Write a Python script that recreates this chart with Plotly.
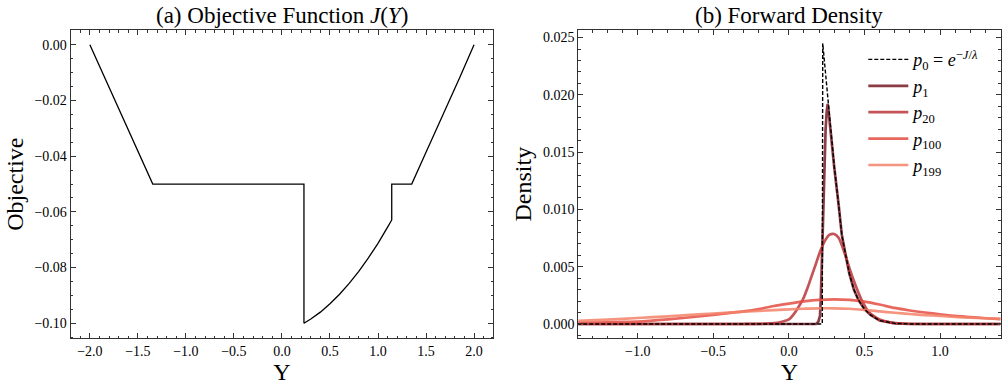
import plotly.graph_objects as go

# ---------------- data ----------------
# (a) objective function J(Y)
j_y = [-2.0, -1.345, 0.229, 0.229, 0.3, 0.4, 0.5, 0.6, 0.7, 0.8, 0.9, 1.0, 1.1,
       1.143, 1.143, 1.351, 1.5, 1.7, 1.85, 2.0]
j_val = [0.0, -0.05, -0.05, -0.1, -0.0985, -0.096, -0.093, -0.0896, -0.0857,
         -0.0814, -0.0765, -0.0713, -0.0655, -0.0629, -0.05, -0.05, -0.0386,
         -0.0235, -0.0118, 0.0]

# (b) forward densities
p0_y = [-1.4, 0.221, 0.224, 0.25, 0.265, 0.28, 0.30, 0.33, 0.35, 0.37, 0.40,
        0.43, 0.46, 0.50, 0.54, 0.60, 0.70, 0.80, 1.4]
p0_val = [0.0, 0.0, 0.0245, 0.0207, 0.0185, 0.0163, 0.0138, 0.0103, 0.0078,
          0.0064, 0.0044, 0.0030, 0.0021, 0.0013, 0.0008, 0.0003, 0.00005, 0.0, 0.0]

p1_y = [-1.4, 0.18, 0.195, 0.206, 0.212, 0.218, 0.228, 0.236, 0.243, 0.25,
        0.257, 0.265, 0.28, 0.30, 0.33, 0.35, 0.37, 0.40, 0.43, 0.46, 0.50,
        0.54, 0.60, 0.70, 0.80, 1.4]
p1_val = [0.0, 0.0, 0.0002, 0.0007, 0.0025, 0.0055, 0.0111, 0.0145, 0.0170,
          0.0185, 0.0192, 0.0183, 0.0160, 0.0137, 0.0103, 0.0078, 0.0064,
          0.0044, 0.0030, 0.0021, 0.0013, 0.0008, 0.0003, 0.00005, 0.0, 0.0]

p20_y = [-1.4, -0.3, -0.15, -0.06, 0.0, 0.029, 0.06, 0.095, 0.125, 0.151, 0.18,
         0.206, 0.24, 0.27, 0.30, 0.33, 0.371, 0.40, 0.426, 0.455, 0.481, 0.525,
         0.56, 0.60, 0.67, 0.75, 0.9, 1.4]
p20_val = [0.0, 0.0, 0.00003, 0.00015, 0.0004, 0.0008, 0.0014, 0.0022, 0.0032,
           0.0042, 0.0053, 0.0063, 0.0073, 0.0078, 0.00785, 0.0075, 0.0061,
           0.0049, 0.0039, 0.0029, 0.0021, 0.0011, 0.0007, 0.0004, 0.00015,
           0.00004, 0.0, 0.0]

p100_y = [-1.4, -1.2, -1.0, -0.8, -0.6, -0.4, -0.3, -0.2, -0.1, 0.0, 0.1, 0.2,
          0.3, 0.4, 0.5, 0.6, 0.7, 0.8, 0.9, 1.0, 1.1, 1.2, 1.3, 1.4]
p100_val = [0.0001, 0.00015, 0.0002, 0.0004, 0.00065, 0.00095, 0.0011, 0.0013,
            0.00157, 0.00178, 0.00197, 0.0021, 0.00215, 0.0021, 0.00195, 0.0017,
            0.0014, 0.00118, 0.001, 0.00085, 0.0007, 0.0006, 0.0005, 0.00042]

p199_y = [-1.4, -1.2, -1.0, -0.8, -0.6, -0.4, -0.2, 0.0, 0.1, 0.2, 0.3, 0.4,
          0.5, 0.6, 0.7, 0.8, 0.9, 1.0, 1.1, 1.2, 1.3, 1.4]
p199_val = [0.00026, 0.00038, 0.00052, 0.00067, 0.00083, 0.00099, 0.00114,
            0.00128, 0.00133, 0.00137, 0.00137, 0.00133, 0.00123, 0.0011,
            0.00098, 0.00087, 0.00078, 0.0007, 0.00062, 0.00055, 0.0005, 0.00045]

# ---------------- figure ----------------
FONT = "Liberation Serif"
fig = go.Figure()

fig.add_trace(go.Scatter(x=j_y, y=j_val, mode="lines", xaxis="x", yaxis="y",
                         line=dict(color="black", width=1.3), showlegend=False))

dens = [
    (p1_y, p1_val, "<i>p</i><sub>1</sub>", "rgba(120,26,37,0.85)", "linear", 2),
    (p20_y, p20_val, "<i>p</i><sub>20</sub>", "rgba(186,54,58,0.85)", "spline", 3),
    (p100_y, p100_val, "<i>p</i><sub>100</sub>", "rgba(228,78,67,0.85)", "spline", 4),
    (p199_y, p199_val, "<i>p</i><sub>199</sub>", "rgba(243,131,106,0.85)", "spline", 5),
]
for xs, ys, name, col, shape, rank in dens:
    fig.add_trace(go.Scatter(x=xs, y=ys, mode="lines", name=name, xaxis="x2", yaxis="y2",
                             line=dict(color=col, width=2.7, shape=shape, smoothing=0.6),
                             legendrank=rank, legendgroup=name))

fig.add_trace(go.Scatter(x=p0_y, y=p0_val, mode="lines", xaxis="x2", yaxis="y2",
                         name="<i>p</i><sub>0</sub> = <i>e</i><sup>−<i>J</i>/<i>λ</i></sup>",
                         line=dict(color="black", width=1.4, dash="4px,2px"),
                         legendrank=1, legendgroup="p0"))

def xax(domain, rng):
    return dict(domain=domain, range=rng, dtick=0.5, tick0=0, tickformat=".1f",
                ticks="inside", ticklen=5, tickwidth=1, tickcolor="#333",
                mirror="allticks", showline=True, linecolor="#333", linewidth=1,
                showgrid=False, zeroline=False,
                minor=dict(ticks="inside", ticklen=2.5, dtick=0.1, tick0=0,
                           tickcolor="#333", showgrid=False),
                tickfont=dict(family=FONT, size=14, color="black"),
                title=dict(text="Y", font=dict(family=FONT, size=24, color="black"), standoff=4),
                automargin=False)

def yax(domain, rng, dt, fmt, mdt, title, anchor):
    return dict(domain=domain, range=rng, dtick=dt, tick0=0, tickformat=fmt, anchor=anchor,
                ticks="inside", ticklen=5, tickwidth=1, tickcolor="#333",
                mirror="allticks", showline=True, linecolor="#333", linewidth=1,
                showgrid=False, zeroline=False,
                minor=dict(ticks="inside", ticklen=2.5, dtick=mdt, tick0=0,
                           tickcolor="#333", showgrid=False),
                tickfont=dict(family=FONT, size=14, color="black"),
                title=dict(text=title, font=dict(family=FONT, size=24, color="black"), standoff=4),
                automargin=False)

ydom = [0.1213, 0.922]
fig.update_layout(
    width=1005, height=385,
    margin=dict(l=0, r=0, t=0, b=0),
    paper_bgcolor="white", plot_bgcolor="white",
    font=dict(family=FONT, color="black"),
    xaxis=xax([0.0703, 0.4908], [-2.2, 2.2]) | dict(anchor="y"),
    yaxis=yax(ydom, [-0.1054, 0.0053], 0.02, ".2f", 0.005, "Objective", "x"),
    xaxis2=xax([0.5754, 0.9957], [-1.393, 1.401]) | dict(anchor="y2"),
    yaxis2=yax(ydom, [-0.00125, 0.02566], 0.005, ".3f", 0.001, "Density", "x2"),
    legend=dict(x=0.859, y=0.893, xanchor="left", yanchor="top",
                bgcolor="rgba(0,0,0,0)", font=dict(family=FONT, size=18, color="black"),
                tracegroupgap=0, itemwidth=40),
    annotations=[
        dict(text="(a) Objective Function <i>J</i>(<i>Y</i>)", x=(0.0703 + 0.4908) / 2,
             y=1 - 15 / 385, xref="paper", yref="paper", showarrow=False,
             xanchor="center", yanchor="middle",
             font=dict(family=FONT, size=23, color="black")),
        dict(text="(b) Forward Density", x=(0.5754 + 0.9957) / 2,
             y=1 - 15 / 385, xref="paper", yref="paper", showarrow=False,
             xanchor="center", yanchor="middle",
             font=dict(family=FONT, size=23, color="black")),
    ],
)

fig.write_html("out.html", config={"displayModeBar": False},
               post_script="document.body.style.margin='0';document.body.style.overflow='hidden';")
